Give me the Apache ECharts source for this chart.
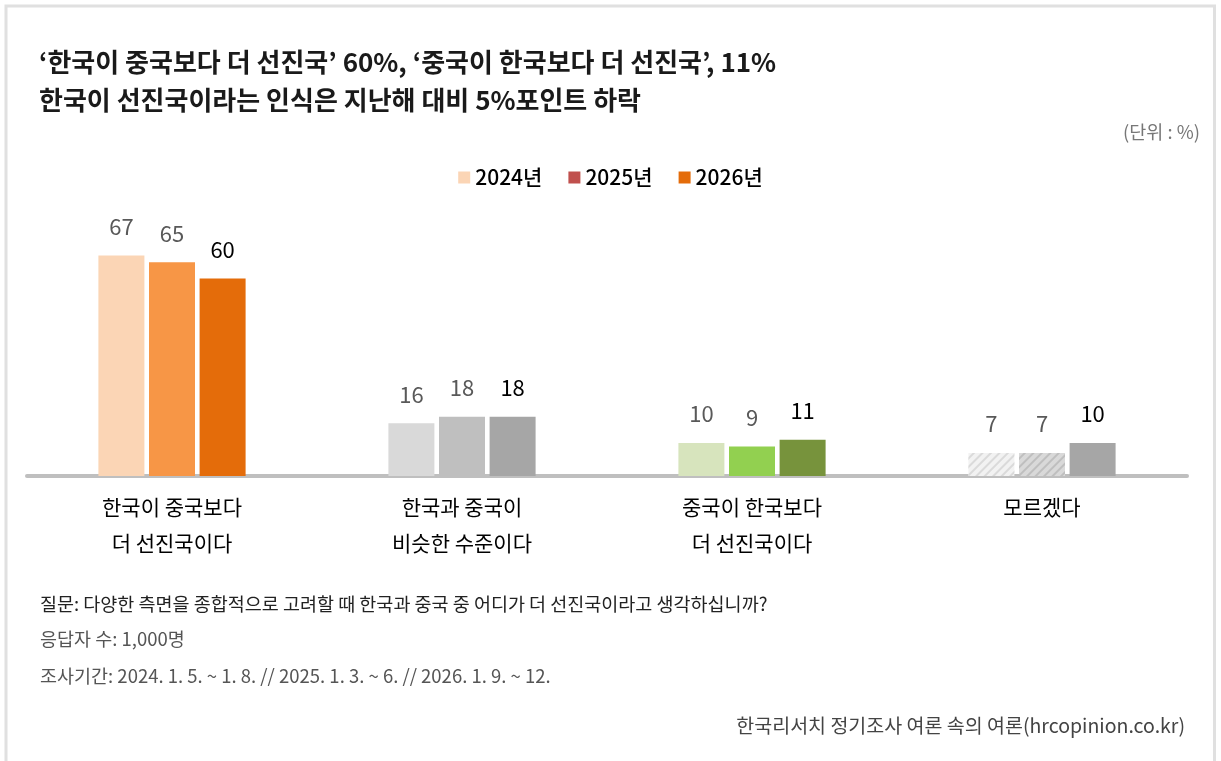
<!DOCTYPE html>
<html>
<head>
<meta charset="utf-8">
<script src="https://cdn.jsdelivr.net/npm/echarts@6/dist/echarts.min.js"></script>
<style>
  html, body { margin: 0; padding: 0; background: #fff; }
  #chart { width: 1221px; height: 761px; }
</style>
</head>
<body>
<div id="chart"></div>
<script>
// data
const categories = ['한국이 중국보다\n더 선진국이다', '한국과 중국이\n비슷한 수준이다', '중국이 한국보다\n더 선진국이다', '모르겠다'];
const years = ['2024년', '2025년', '2026년'];
const values_2024 = [67, 16, 10, 7];
const values_2025 = [65, 18, 9, 7];
const values_2026 = [60, 18, 11, 10];

const title_lines = ['‘한국이 중국보다 더 선진국’ 60%, ‘중국이 한국보다 더 선진국’, 11%', '한국이 선진국이라는 인식은 지난해 대비 5%포인트 하락'];
const unit_text = '(단위 : %)';
const notes = ['질문: 다양한 측면을 종합적으로 고려할 때 한국과 중국 중 어디가 더 선진국이라고 생각하십니까?', '응답자 수: 1,000명', '조사기간: 2024. 1. 5. ~ 1. 8. // 2025. 1. 3. ~ 6. // 2026. 1. 9. ~ 12.'];
const source_text = '한국리서치 정기조사 여론 속의 여론(hrcopinion.co.kr)';

const FONT = '"Noto Sans CJK KR", "Noto Sans", sans-serif';

// styles: legend colour per year, bar colour per category/year
const legend_colors = ['#FBD5B5', '#C0504D', '#E46C0A'];
const bar_colors = [
    ['#FBD5B5', '#F79646', '#E46C0A'],
    ['#D9D9D9', '#BFBFBF', '#A6A6A6'],
    ['#D7E4BD', '#92D050', '#77933C'],
    ['#F2F2F2', '#D9D9D9', '#A6A6A6']
];
const hatch = [null, null, null, ['#DADADA', '#BFBFBF', null]];
const label_colors = ['#595959', '#595959', '#000000'];

function gen_bar_series(idx, values) {
    return {
        name: years[idx],
        type: 'bar',
        barWidth: 46,
        barGap: '10%',
        itemStyle: {color: legend_colors[idx]},
        label: {
            show: true,
            position: 'top',
            distance: 18,
            fontSize: 22,
            fontFamily: FONT,
            color: label_colors[idx]
        },
        data: values.map((v, c) => {
            let item = {value: v, itemStyle: {color: bar_colors[c][idx]}};
            if (hatch[c] && hatch[c][idx]) {
                item.itemStyle.decal = {
                    symbol: 'rect',
                    color: hatch[c][idx],
                    dashArrayX: [1, 0],
                    dashArrayY: [2, 4],
                    rotation: -Math.PI / 4
                };
            }
            return item;
        })
    };
}

let chart = echarts.init(document.getElementById('chart'));

let option = {
    backgroundColor: '#fff',
    animation: false,
    title: [
        {
            text: title_lines.join('\n'),
            left: 34, top: 38,
            textStyle: {fontFamily: FONT, fontSize: 26, fontWeight: 'bold', color: '#1a1a1a', lineHeight: 38}
        },
        {
            text: unit_text,
            right: 16, top: 118,
            textStyle: {fontFamily: FONT, fontSize: 18.5, fontWeight: 'normal', color: '#777'}
        },
        {
            text: notes[0],
            left: 35, top: 590,
            textStyle: {fontFamily: FONT, fontSize: 18.5, fontWeight: 'normal', color: '#222'}
        },
        {
            text: notes[1],
            left: 35, top: 625,
            textStyle: {fontFamily: FONT, fontSize: 18.5, fontWeight: 'normal', color: '#555'}
        },
        {
            text: notes[2],
            left: 35, top: 662,
            textStyle: {fontFamily: FONT, fontSize: 18.5, fontWeight: 'normal', color: '#555'}
        },
        {
            text: source_text,
            right: 31, top: 711,
            textStyle: {fontFamily: FONT, fontSize: 19.5, fontWeight: 'normal', color: '#444'}
        }
    ],
    legend: {
        data: years,
        top: 162,
        left: 'center',
        itemWidth: 12,
        itemHeight: 12,
        itemGap: 26,
        icon: 'rect',
        textStyle: {fontFamily: FONT, fontSize: 21, fontWeight: 500, color: '#000'}
    },
    grid: {left: 27, right: 34, top: 147, bottom: 285},
    xAxis: {
        type: 'category',
        data: categories,
        axisLine: {lineStyle: {color: '#BFBFBF', width: 4}},
        axisTick: {show: false},
        axisLabel: {
            margin: 13,
            fontFamily: FONT,
            fontSize: 21,
            lineHeight: 36,
            color: '#000'
        }
    },
    yAxis: {
        type: 'value',
        min: 0,
        max: 100,
        show: false,
        splitLine: {show: false}
    },
    graphic: [{
        type: 'rect',
        shape: {x: 6, y: 6, width: 1208.5, height: 800},
        style: {fill: 'none', stroke: '#E0E0E0', lineWidth: 3},
        silent: true
    }],
    series: [
        gen_bar_series(0, values_2024),
        gen_bar_series(1, values_2025),
        gen_bar_series(2, values_2026)
    ]
};

chart.setOption(option);
</script>
</body>
</html>
